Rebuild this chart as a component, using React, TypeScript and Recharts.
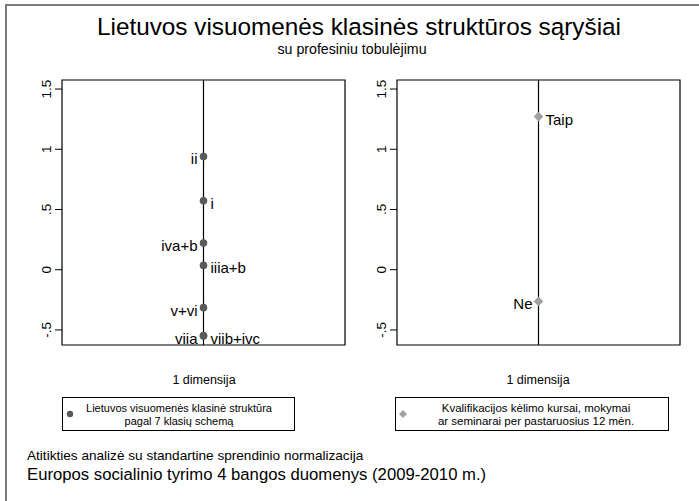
import React from "react";
import { ScatterChart, Scatter, XAxis, YAxis, ReferenceLine, ReferenceArea } from "recharts";

// 1 dimensija koordinatės (atitikties analizė)
const classLabels = ["ii", "i", "iva+b", "iiia+b", "v+vi", "viia", "viib+ivc"];
const classDim1 = [0.94, 0.572, 0.221, 0.036, -0.315, -0.547, -0.55];
const courseLabels = ["Taip", "Ne"];
const courseDim1 = [1.271, -0.263];

const yTicks = [-0.5, 0, 0.5, 1, 1.5];
const yTickText: Record<string, string> = { "-0.5": "-.5", "0": "0", "0.5": ".5", "1": "1", "1.5": "1.5" };

// kurioje pusėje rašomas taško pavadinimas
const leftSide = ["ii", "iva+b", "v+vi", "viia", "Ne"];

const FONT = "'Liberation Sans', Arial, Helvetica, sans-serif";
const Y_DOMAIN: [number, number] = [-0.625, 1.575];

const classData = classLabels.map((name, i) => ({ name, x: 0, y: classDim1[i] }));
const courseData = courseLabels.map((name, i) => ({ name, x: 0, y: courseDim1[i] }));

function RotTick(props: any) {
  const { x, y, payload } = props;
  return (
    <text
      transform={`translate(${x},${y}) rotate(-90)`}
      textAnchor="middle"
      fontSize={13.5}
      fontFamily={FONT}
      fill="#000"
    >
      {yTickText[String(payload.value)] ?? payload.value}
    </text>
  );
}

function PointLabel({ cx, cy, name }: { cx: number; cy: number; name: string }) {
  const left = leftSide.includes(name);
  return (
    <text
      x={left ? cx - 6 : cx + 7}
      y={cy + 8}
      textAnchor={left ? "end" : "start"}
      fontSize={15}
      fontFamily={FONT}
      fill="#000"
    >
      {name}
    </text>
  );
}

function Dot(props: any) {
  const { cx, cy, payload } = props;
  return (
    <g>
      <circle cx={cx} cy={cy} r={3.8} fill="#5a5a5a" />
      <PointLabel cx={cx} cy={cy} name={payload.name} />
    </g>
  );
}

function Diamond(props: any) {
  const { cx, cy, payload } = props;
  const r = 4.8;
  return (
    <g>
      <polygon
        points={`${cx},${cy - r} ${cx + r},${cy} ${cx},${cy + r} ${cx - r},${cy}`}
        fill="#a0a0a0"
      />
      <PointLabel cx={cx} cy={cy} name={payload.name} />
    </g>
  );
}

function Panel({ data, shape, left, marginLeft, marginRight }: any) {
  return (
    <div style={{ position: "absolute", left, top: 0 }}>
      <ScatterChart
        width={360}
        height={360}
        margin={{ top: 80, right: marginRight, bottom: 15, left: marginLeft }}
      >
        <XAxis type="number" dataKey="x" domain={[-1, 1]} hide allowDataOverflow />
        <YAxis
          type="number"
          dataKey="y"
          domain={Y_DOMAIN}
          ticks={yTicks}
          allowDataOverflow
          width={30}
          axisLine={false}
          tickSize={7}
          tickMargin={4}
          tickLine={{ stroke: "#000" }}
          tick={<RotTick />}
          interval={0}
        />
        <ReferenceArea
          x1={-1}
          x2={1}
          y1={Y_DOMAIN[0]}
          y2={Y_DOMAIN[1]}
          fill="none"
          fillOpacity={0}
          stroke="#000"
          strokeWidth={1.2}
          ifOverflow="visible"
        />
        <ReferenceLine x={0} stroke="#000" strokeWidth={1.2} />
        <Scatter data={data} shape={shape} isAnimationActive={false} />
      </ScatterChart>
    </div>
  );
}

export default function App() {
  return (
    <div
      style={{
        position: "absolute",
        left: 0,
        top: 0,
        width: 699,
        height: 501,
        background: "#fff",
        fontFamily: FONT,
        overflow: "hidden",
      }}
    >
      <svg width={699} height={501} style={{ position: "absolute", left: 0, top: 0 }}>
        <line x1={6} y1={5} x2={6} y2={501} stroke="#7a7a7a" strokeWidth={2} />
        <line x1={5} y1={5} x2={699} y2={5} stroke="#7a7a7a" strokeWidth={2} />
        <text x={359} y={35} textAnchor="middle" fontSize={24.3} fontFamily={FONT} fill="#000">
          Lietuvos visuomenės klasinės struktūros sąryšiai
        </text>
        <text x={352} y={54} textAnchor="middle" fontSize={14.2} fontFamily={FONT} fill="#000">
          su profesiniu tobulėjimu
        </text>
        <text x={204} y={384} textAnchor="middle" fontSize={12.5} fontFamily={FONT} fill="#000">
          1 dimensija
        </text>
        <text x={538} y={384} textAnchor="middle" fontSize={12.5} fontFamily={FONT} fill="#000">
          1 dimensija
        </text>
        <rect x={62.5} y={397.5} width={232} height={33} fill="#fff" stroke="#000" strokeWidth={1} />
        <circle cx={70} cy={414} r={3.2} fill="#5a5a5a" />
        <text x={179} y={412} textAnchor="middle" fontSize={11} fontFamily={FONT} fill="#000">
          Lietuvos visuomenės klasinė struktūra
        </text>
        <text x={179} y={425} textAnchor="middle" fontSize={11} fontFamily={FONT} fill="#000">
          pagal 7 klasių schemą
        </text>
        <rect x={395.5} y={397.5} width={273} height={33} fill="#fff" stroke="#000" strokeWidth={1} />
        <polygon points="403,410 407,414 403,418 399,414" fill="#a0a0a0" />
        <text x={536} y={412} textAnchor="middle" fontSize={11.5} fontFamily={FONT} fill="#000">
          Kvalifikacijos kėlimo kursai, mokymai
        </text>
        <text x={536} y={425} textAnchor="middle" fontSize={11.5} fontFamily={FONT} fill="#000">
          ar seminarai per pastaruosius 12 mėn.
        </text>
        <text x={27} y={460} fontSize={13.6} fontFamily={FONT} fill="#000">
          Atitikties analizė su standartine sprendinio normalizacija
        </text>
        <text x={27} y={480} fontSize={16.7} fontFamily={FONT} fill="#000">
          Europos socialinio tyrimo 4 bangos duomenys (2009-2010 m.)
        </text>
      </svg>
      <Panel data={classData} shape={<Dot />} left={0} marginLeft={32} marginRight={15} />
      <Panel data={courseData} shape={<Diamond />} left={340} marginLeft={27} marginRight={20} />
    </div>
  );
}
